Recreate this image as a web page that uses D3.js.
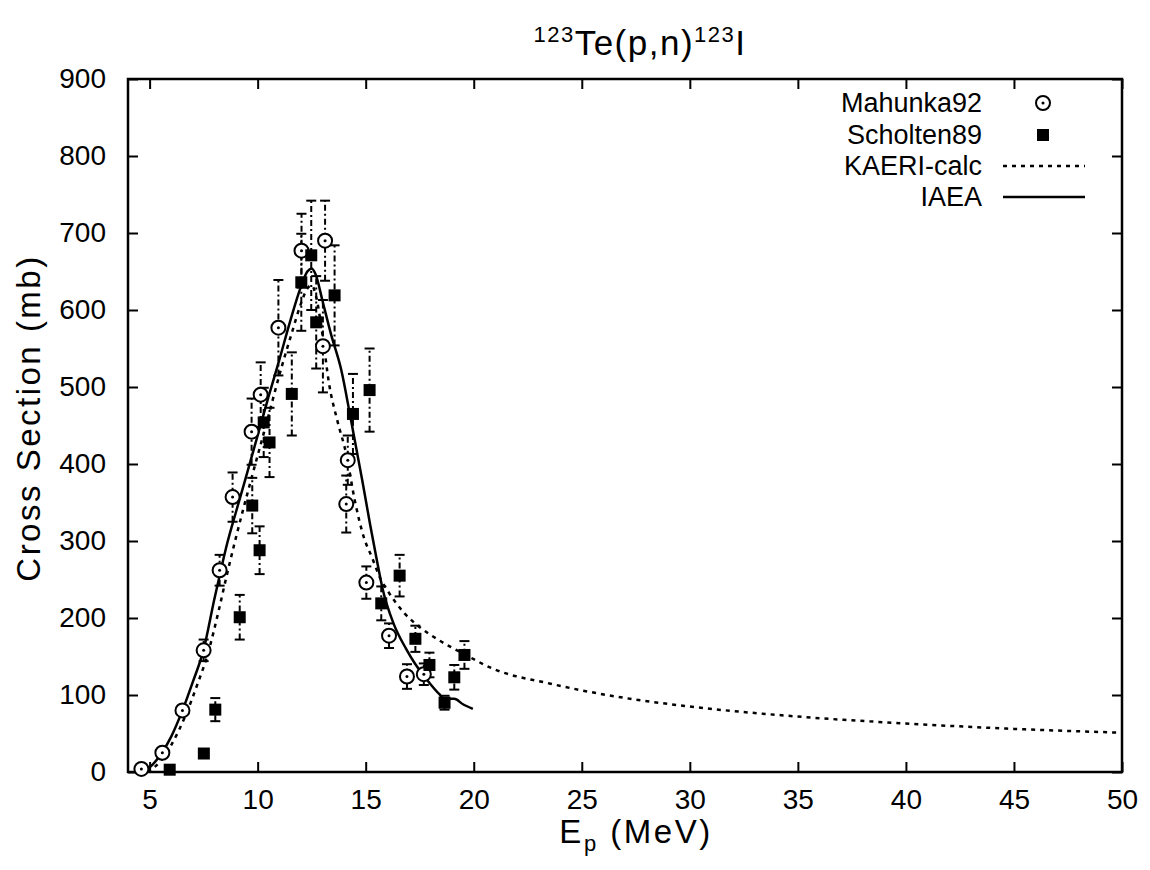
<!DOCTYPE html>
<html>
<head>
<meta charset="utf-8">
<script src="https://cdn.jsdelivr.net/npm/d3@7"></script>
<style>
  html, body { margin: 0; padding: 0; background: #fff; }
  svg text { font-family: "Liberation Sans", Arial, Helvetica, sans-serif; fill: #000; }
</style>
</head>
<body>
<svg id="chart" width="1150" height="870"></svg>
<script>
// Mahunka92 measurements (open circles): energy (MeV), cross section (mb), uncertainty (mb)
const mahunkaE   = [4.62, 5.59, 6.52, 7.50, 8.24, 8.84, 9.72, 10.14, 10.96, 12.03, 13.12, 13.02, 14.17, 14.10, 15.03, 16.08, 16.91, 17.69];
const mahunkaXS  = [4,    25,   80,   158,  262,  357,  442,  490,   577,   677,   690,   553,   405,   348,   246,   177,   124,   127];
const mahunkaErr = [0,    4,    6,    14,   20,   32,   43,   42,    62,    48,    52,    60,    32,    37,    21,    16,    16,    14];

// Scholten89 measurements (filled squares)
const scholtenE   = [5.93, 7.51, 8.04, 9.17, 9.75, 10.09, 10.28, 10.55, 11.58, 12.02, 12.48, 12.71, 13.56, 14.41, 15.18, 15.72, 16.57, 17.30, 17.95, 18.65, 19.10, 19.57];
const scholtenXS  = [3,    24,   81,   201,  346,  288,   454,   428,   491,   636,   671,   584,   619,   465,   496,   219,   255,   173,   139,   90,    123,   152];
const scholtenErr = [0,    3,    15,   29,   36,   31,    45,    45,    54,    63,    71,    60,    65,    52,    54,    22,    27,    17,    16,    9,     16,    18];

// KAERI-calc model curve
const kaeriE  = [4.9, 5.5, 6.0, 6.7, 7.2, 7.7, 8.2, 8.55, 9.0, 9.7, 10.4, 11.1, 11.6, 12.0, 12.3, 12.5, 12.7, 13.0, 13.3, 13.7, 14.1, 14.5, 14.9, 15.3, 15.7, 16.0, 16.8, 17.5, 18.4, 19.5, 20.9, 23.5, 25, 27.5, 30, 35, 40, 45, 50];
const kaeriXS = [0,   14,  35,  76,  113, 154, 210, 253,  305, 380, 452,  525,  572,  608,  628,  632,  618,  568,  505,  455,  413,  352,  306,  278,  250,  236,  206,  188,  171,  154,  134,  115,  106, 94,   85, 72, 63, 56, 51];

// IAEA evaluated curve
const iaeaE  = [4.6, 5.0, 5.59, 6.0, 6.52, 7.0, 7.5, 8.0, 8.24, 8.6, 9.0, 9.4, 10.0, 10.5, 11.0, 11.5, 12.0, 12.3, 12.5, 12.7, 13.0, 13.4, 13.87, 14.3, 14.84, 15.2, 15.49, 15.79, 16.3, 16.87, 17.3, 17.64, 18.0, 18.41, 18.64, 19.1, 19.5, 19.96];
const iaeaXS = [0,   6,   26,   46,  80,   117, 159, 225, 255,  298, 338, 377, 437,  487,  535,  585,  630,  650,  654,  645,  612,  568,  522,   460,  379,   322,  279,   237,   192,  160,   140,  127,   114,  101,   95,    95,   88,   82];

const xTicks = [5, 10, 15, 20, 25, 30, 35, 40, 45, 50];
const yTicks = [0, 100, 200, 300, 400, 500, 600, 700, 800, 900];

const plot = { left: 128, right: 1122, top: 79, bottom: 772 };
const svg = d3.select("#chart");

const x = d3.scaleLinear().domain([4, 50]).range([plot.left, plot.right]);
const y = d3.scaleLinear().domain([0, 900]).range([plot.bottom, plot.top]);

const TICK_FONT = 28;
const LEGEND_FONT = 27;
const TITLE_FONT = 35;
const LABEL_FONT = 33;
const SUB_FONT = 22;
const TICK = 10;

// Axes: ticks point inward on all four sides, labels on bottom/left only
const axisStyle = g => {
  g.select(".domain").remove();
  g.selectAll("line").attr("stroke", "#000").attr("stroke-width", 2);
};
svg.append("g").attr("transform", `translate(0,${plot.bottom})`)
  .call(d3.axisBottom(x).tickValues(xTicks).tickSize(-TICK).tickPadding(TICK + 7))
  .call(axisStyle)
  .call(g => g.selectAll("text").attr("font-size", TICK_FONT).attr("fill", "#000")
    .attr("font-family", "Liberation Sans, Arial, sans-serif"));
svg.append("g").attr("transform", `translate(0,${plot.top})`)
  .call(d3.axisTop(x).tickValues(xTicks).tickSize(-TICK).tickFormat(""))
  .call(axisStyle);
svg.append("g").attr("transform", `translate(${plot.left},0)`)
  .call(d3.axisLeft(y).tickValues(yTicks).tickSize(-TICK).tickPadding(TICK + 12))
  .call(axisStyle)
  .call(g => g.selectAll("text").attr("font-size", TICK_FONT).attr("fill", "#000")
    .attr("font-family", "Liberation Sans, Arial, sans-serif"));
svg.append("g").attr("transform", `translate(${plot.right},0)`)
  .call(d3.axisRight(y).tickValues(yTicks).tickSize(-TICK).tickFormat(""))
  .call(axisStyle);

// Frame
svg.append("rect")
  .attr("x", plot.left).attr("y", plot.top)
  .attr("width", plot.right - plot.left).attr("height", plot.bottom - plot.top)
  .attr("fill", "none").attr("stroke", "#000").attr("stroke-width", 2.5);

// Curves
const line = (es, vs) => d3.line()
  .x((d, i) => x(es[i])).y((d, i) => y(vs[i]))
  .curve(d3.curveMonotoneX)(es);

svg.append("path").attr("d", line(kaeriE, kaeriXS))
  .attr("fill", "none").attr("stroke", "#000").attr("stroke-width", 2.5)
  .attr("stroke-dasharray", "4,5");
svg.append("path").attr("d", line(iaeaE, iaeaXS))
  .attr("fill", "none").attr("stroke", "#000").attr("stroke-width", 2.5);

// Error bars (dash-dot with caps)
function errorBars(es, vs, errs) {
  const g = svg.append("g").attr("stroke", "#000").attr("stroke-width", 2);
  es.forEach((e, i) => {
    if (!errs[i]) return;
    const cx = x(e), y0 = y(vs[i] - errs[i]), y1 = y(vs[i] + errs[i]);
    g.append("line").attr("x1", cx).attr("x2", cx).attr("y1", y0).attr("y2", y1)
      .attr("stroke-dasharray", "6,3,2,3");
    g.append("line").attr("x1", cx - 5).attr("x2", cx + 5).attr("y1", y0).attr("y2", y0);
    g.append("line").attr("x1", cx - 5).attr("x2", cx + 5).attr("y1", y1).attr("y2", y1);
  });
}
errorBars(mahunkaE, mahunkaXS, mahunkaErr);
errorBars(scholtenE, scholtenXS, scholtenErr);

// Markers
function circleMark(g, cx, cy) {
  g.append("circle").attr("cx", cx).attr("cy", cy).attr("r", 7)
    .attr("fill", "#fff").attr("stroke", "#000").attr("stroke-width", 2);
  g.append("circle").attr("cx", cx).attr("cy", cy).attr("r", 1.5).attr("fill", "#000");
}
function squareMark(g, cx, cy) {
  g.append("rect").attr("x", cx - 6).attr("y", cy - 6).attr("width", 12).attr("height", 12)
    .attr("fill", "#000");
}
const mg = svg.append("g");
mahunkaE.forEach((e, i) => circleMark(mg, x(e), y(mahunkaXS[i])));
const sg = svg.append("g");
scholtenE.forEach((e, i) => squareMark(sg, x(e), y(scholtenXS[i])));

// Legend
const legendRows = [
  { label: "Mahunka92", kind: "circle", y: 103 },
  { label: "Scholten89", kind: "square", y: 135 },
  { label: "KAERI-calc", kind: "dash", y: 166 },
  { label: "IAEA", kind: "solid", y: 197 }
];
const lg = svg.append("g");
legendRows.forEach(r => {
  lg.append("text").attr("x", 982).attr("y", r.y).attr("dy", "0.35em")
    .attr("text-anchor", "end").attr("font-size", LEGEND_FONT).text(r.label);
  if (r.kind === "circle") circleMark(lg, 1043, r.y);
  else if (r.kind === "square") squareMark(lg, 1043, r.y);
  else lg.append("line").attr("x1", 1003).attr("x2", 1085).attr("y1", r.y).attr("y2", r.y)
    .attr("stroke", "#000").attr("stroke-width", 2.5)
    .attr("stroke-dasharray", r.kind === "dash" ? "4,5" : null);
});

// Title with superscript mass numbers
const title = svg.append("text").attr("x", 640).attr("y", 55)
  .attr("text-anchor", "middle").attr("font-size", TITLE_FONT).attr("letter-spacing", 1.5);
title.append("tspan").attr("font-size", SUB_FONT).attr("dy", -13).text("123");
title.append("tspan").attr("dy", 13).text("Te(p,n)");
title.append("tspan").attr("font-size", SUB_FONT).attr("dy", -13).text("123");
title.append("tspan").attr("dy", 13).text("I");

// Axis titles
const xl = svg.append("text").attr("x", 636).attr("y", 843)
  .attr("text-anchor", "middle").attr("font-size", LABEL_FONT).attr("letter-spacing", 2.5);
xl.append("tspan").text("E");
xl.append("tspan").attr("font-size", SUB_FONT).attr("dy", 8).text("p");
xl.append("tspan").attr("dy", -8).text(" (MeV)");

svg.append("text").attr("transform", "translate(40,418) rotate(-90)")
  .attr("text-anchor", "middle").attr("font-size", LABEL_FONT).attr("letter-spacing", 2.5)
  .text("Cross Section (mb)");
</script>
</body>
</html>
